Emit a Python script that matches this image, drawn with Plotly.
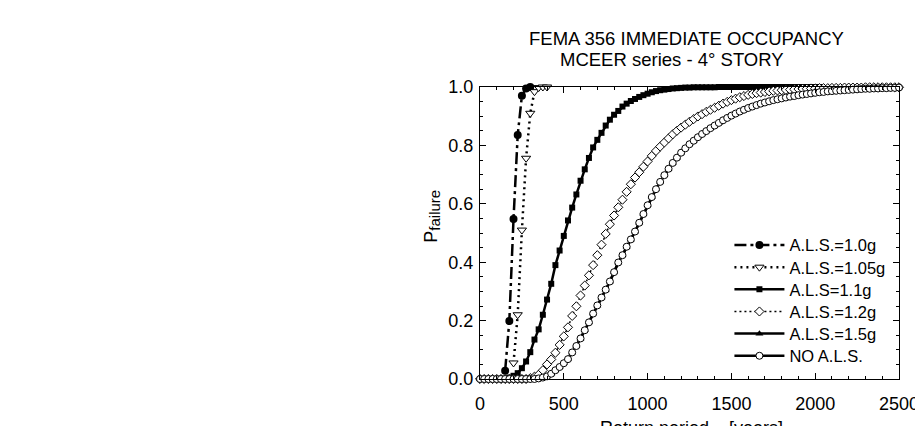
import plotly.graph_objects as go

# Return periods [years], sampled every 25 years
RP = [0, 25, 50, 75, 100, 125, 150, 175, 200, 225, 250, 275, 300, 325, 350, 375, 400, 425, 450, 475,
      500, 525, 550, 575, 600, 625, 650, 675, 700, 725, 750, 775, 800, 825, 850, 875, 900, 925, 950, 975,
      1000, 1025, 1050, 1075, 1100, 1125, 1150, 1175, 1200, 1225, 1250, 1275, 1300, 1325, 1350, 1375,
      1400, 1425, 1450, 1475, 1500, 1525, 1550, 1575, 1600, 1625, 1650, 1675, 1700, 1725, 1750, 1775,
      1800, 1825, 1850, 1875, 1900, 1925, 1950, 1975, 2000, 2025, 2050, 2075, 2100, 2125, 2150, 2175,
      2200, 2225, 2250, 2275, 2300, 2325, 2350, 2375, 2400, 2425, 2450, 2475, 2500]

RP_ALS_10 = [150, 175, 200, 225, 250, 275, 300]
P_ALS_10 = [0.028, 0.199, 0.548, 0.836, 0.970, 0.995, 1.0]

RP_ALS_105 = [200, 225, 250, 275, 300, 325, 350, 375, 400]
P_ALS_105 = [0.055, 0.220, 0.510, 0.756, 0.910, 0.984, 0.998, 1.0, 1.0]

P_ALS_11 = [0, 0, 0, 0, 0, 0, 0,
            0.005, 0.011, 0.020, 0.037, 0.060, 0.092, 0.135, 0.170, 0.220, 0.272, 0.326, 0.390, 0.440,
            0.490, 0.543, 0.587, 0.632, 0.679, 0.718, 0.757, 0.793, 0.819, 0.843, 0.868, 0.888, 0.905,
            0.918, 0.933, 0.943, 0.952, 0.959, 0.966, 0.972, 0.977, 0.982, 0.986, 0.989, 0.991, 0.993,
            0.995, 0.996, 0.997, 0.998, 0.998, 0.999,
            0.999, 0.999, 0.999, 0.999, 0.999, 1.0, 1.0, 1.0, 1.0, 1.0, 1.0, 1.0, 1.0, 1.0, 1.0, 1.0,
            1.0, 1.0, 1.0, 1.0, 1.0, 1.0, 1.0, 1.0, 1.0, 1.0, 1.0, 1.0, 1.0, 1.0]

P_ALS_12 = [0, 0, 0, 0, 0, 0, 0, 0, 0, 0, 0, 0,
            0.003, 0.008, 0.015, 0.030, 0.050, 0.067, 0.090, 0.117, 0.146, 0.177, 0.216, 0.249, 0.286,
            0.320, 0.355, 0.390, 0.424, 0.460, 0.497, 0.530, 0.560, 0.588, 0.614, 0.641, 0.667, 0.690,
            0.708, 0.727, 0.745, 0.764, 0.781, 0.796, 0.810, 0.824, 0.838, 0.850, 0.861, 0.871, 0.881,
            0.890, 0.899, 0.907, 0.915, 0.922, 0.929, 0.936, 0.943, 0.949, 0.955, 0.960, 0.965, 0.969,
            0.973, 0.976, 0.979, 0.981, 0.983, 0.985, 0.987, 0.988, 0.989, 0.990, 0.991, 0.992, 0.993,
            0.994, 0.994, 0.995, 0.995, 0.996, 0.996, 0.996, 0.997, 0.997, 0.997, 0.998, 0.998, 0.998,
            0.998, 0.998, 0.999, 0.999, 0.999, 0.999, 0.999, 0.999, 0.999, 0.999, 0.999]

P_NO_ALS = [0, 0, 0, 0, 0, 0, 0, 0, 0, 0, 0, 0, 0, 0,
            0.002, 0.005, 0.009, 0.018, 0.030, 0.041, 0.054, 0.068, 0.091, 0.113, 0.139, 0.167, 0.194,
            0.224, 0.252, 0.279, 0.306, 0.334, 0.366, 0.399, 0.424, 0.453, 0.478, 0.505, 0.535, 0.565,
            0.595, 0.623, 0.650, 0.675, 0.698, 0.720, 0.740, 0.758, 0.775, 0.790, 0.804, 0.816, 0.828,
            0.839, 0.849, 0.859, 0.868, 0.877, 0.886, 0.894, 0.902, 0.909, 0.916, 0.922, 0.928, 0.933,
            0.938, 0.943, 0.947, 0.951, 0.955, 0.958, 0.961, 0.964, 0.967, 0.969, 0.972, 0.974, 0.976,
            0.978, 0.980, 0.982, 0.983, 0.985, 0.986, 0.987, 0.988, 0.989, 0.990, 0.991, 0.992, 0.993,
            0.994, 0.994, 0.995, 0.995, 0.996, 0.996, 0.997, 0.997, 0.998]

P_ALS_15 = list(P_NO_ALS)  # coincides with the NO A.L.S. curve

NAMES = ["A.L.S.=1.0g", "A.L.S.=1.05g", "A.L.S=1.1g", "A.L.S.=1.2g", "A.L.S.=1.5g", "NO A.L.S."]
TITLE1 = "FEMA 356 IMMEDIATE OCCUPANCY"
TITLE2 = "MCEER series - 4° STORY"
X_TITLE = "Return period\u00a0\u00a0\u00a0\u00a0[years]"
Y_TITLE = "P<sub><span style='font-size:15px'>failure</span></sub>"

FONT = "Liberation Sans, Arial, sans-serif"
LEGENDS = ["legend", "legend2", "legend3", "legend4", "legend5", "legend6"]

fig = go.Figure()

fig.add_trace(go.Scatter(
    x=RP_ALS_10, y=P_ALS_10, name=NAMES[0], mode="lines+markers", cliponaxis=False, legend=LEGENDS[0],
    line=dict(color="black", width=2.5, dash="12px,4px,3px,4px"),
    marker=dict(symbol="circle", size=8, color="black")))
fig.add_trace(go.Scatter(
    x=RP_ALS_105, y=P_ALS_105, name=NAMES[1], mode="lines+markers", cliponaxis=False, legend=LEGENDS[1],
    line=dict(color="black", width=2.5, dash="2px,4px"),
    marker=dict(symbol="triangle-down", size=8, color="white", line=dict(color="black", width=1))))
fig.add_trace(go.Scatter(
    x=RP[:len(P_ALS_11)], y=P_ALS_11, name=NAMES[2], mode="lines+markers", cliponaxis=False, legend=LEGENDS[2],
    line=dict(color="black", width=2.5),
    marker=dict(symbol="square", size=6, color="black")))
fig.add_trace(go.Scatter(
    x=RP[:len(P_ALS_12)], y=P_ALS_12, name=NAMES[3], mode="lines+markers", cliponaxis=False, legend=LEGENDS[3],
    line=dict(color="black", width=1.5, dash="2px,3px"),
    marker=dict(symbol="diamond", size=7, color="white", line=dict(color="black", width=1))))
fig.add_trace(go.Scatter(
    x=RP[:len(P_ALS_15)], y=P_ALS_15, name=NAMES[4], mode="lines+markers", cliponaxis=False, legend=LEGENDS[4],
    line=dict(color="black", width=2.5),
    marker=dict(symbol="triangle-up", size=7, color="black")))
fig.add_trace(go.Scatter(
    x=RP[:len(P_NO_ALS)], y=P_NO_ALS, name=NAMES[5], mode="lines+markers", cliponaxis=False, legend=LEGENDS[5],
    line=dict(color="black", width=2.5),
    marker=dict(symbol="circle", size=7, color="white", line=dict(color="black", width=1))))

axis_common = dict(
    showline=True, linecolor="black", linewidth=1, mirror="allticks",
    ticks="inside", ticklen=6, tickwidth=1, tickcolor="black",
    showgrid=False, zeroline=False, ticklabeloverflow="allow",
    tickfont=dict(family=FONT, size=18, color="black"),
)
fig.update_xaxes(range=[0, 2500], tick0=0, dtick=500, ticklabelstandoff=8,
                 minor=dict(dtick=100, ticks="inside", ticklen=3, tickcolor="black"),
                 **axis_common)
fig.update_yaxes(range=[0, 1], tick0=0, dtick=0.2, tickformat=".1f", ticklabelstandoff=2,
                 minor=dict(dtick=0.05, ticks="inside", ticklen=3, tickcolor="black"),
                 **axis_common)

# page is offset by the 8px body margin
OFF = 8
W, H = 923, 426
L, T = 472, 79
R = W - 897
B = H - 371
pw, ph = W - L - R, H - T - B

def px_x(page_x):
    return (page_x - OFF - L) / pw

def px_y(page_y):
    return (H - B - (page_y - OFF)) / ph

annots = [
    dict(text=TITLE1, x=px_x(689), y=px_y(38), xref="paper", yref="paper",
         xanchor="center", yanchor="middle", showarrow=False,
         font=dict(family=FONT, size=18.5, color="black")),
    dict(text=TITLE2, x=px_x(675), y=px_y(60), xref="paper", yref="paper",
         xanchor="center", yanchor="middle", showarrow=False,
         font=dict(family=FONT, size=18.5, color="black")),
    dict(text=X_TITLE, x=px_x(695), y=px_y(428), xref="paper", yref="paper",
         xanchor="center", yanchor="middle", showarrow=False,
         font=dict(family=FONT, size=18, color="black")),
    dict(text=Y_TITLE, x=px_x(431), y=px_y(216), xref="paper", yref="paper",
         xanchor="center", yanchor="middle", showarrow=False, textangle=-90,
         font=dict(family=FONT, size=18, color="black")),
]

legend_layout = {}
for k, name in enumerate(LEGENDS):
    row_center = 243.3 + 22.15 * k
    legend_layout[name] = dict(
        x=px_x(733), y=px_y(row_center - 15.5), xanchor="left", yanchor="top",
        bgcolor="rgba(0,0,0,0)", borderwidth=0, itemwidth=50,
        font=dict(family=FONT, size=16.5, color="black"), tracegroupgap=0)

fig.update_layout(
    width=W, height=H,
    margin=dict(l=L, r=R, t=T, b=B, pad=0),
    paper_bgcolor="white", plot_bgcolor="white",
    font=dict(family=FONT, size=16.5, color="black"),
    showlegend=True,
    annotations=annots,
    **legend_layout,
)

fig.write_html("out.html")
